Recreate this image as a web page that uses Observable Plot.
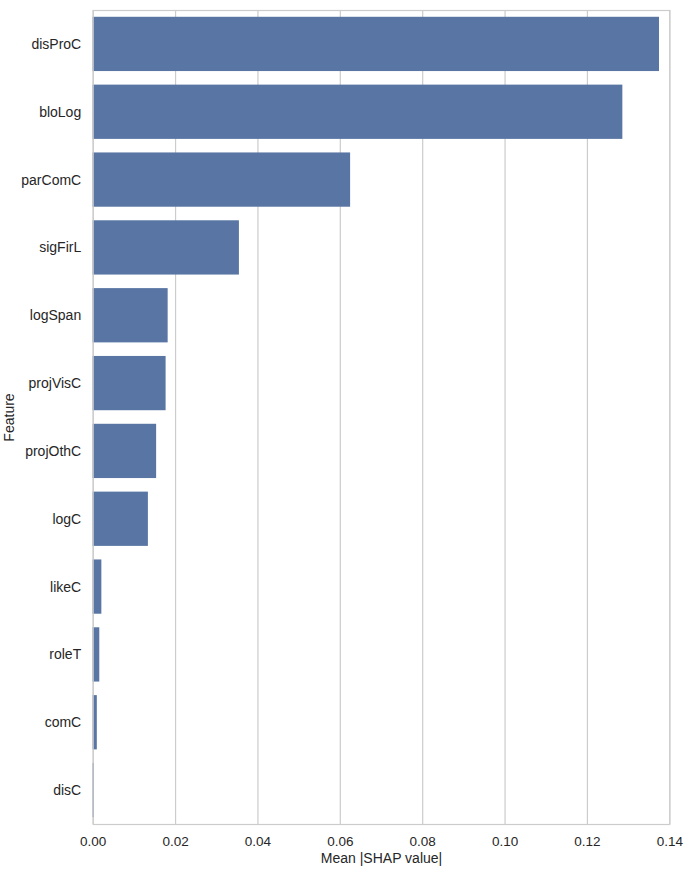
<!DOCTYPE html>
<html><head><meta charset="utf-8">
<script src="https://cdn.jsdelivr.net/npm/d3@7"></script>
<script src="https://cdn.jsdelivr.net/npm/@observablehq/plot@0.6"></script>
<style>
body{margin:0;background:#fff;}
svg{font-family:"Liberation Sans",Arial,sans-serif;}
</style></head>
<body><div id="chart"></div>
<script>
const features = ["disProC","bloLog","parComC","sigFirL","logSpan","projVisC","projOthC","logC","likeC","roleT","comC","disC"];
const meanShap = [0.1375,0.1286,0.0625,0.0355,0.0182,0.0177,0.0154,0.0134,0.0021,0.0016,0.0010,0.0003];
const xTicks = [0,0.02,0.04,0.06,0.08,0.10,0.12,0.14];
const data = features.map((f,i)=>({feature:f, value:meanShap[i]}));

const chart = Plot.plot({
  width: 687, height: 871,
  marginLeft: 92.7, marginRight: 17.7, marginTop: 10, marginBottom: 47,
  style: {fontSize: "13.5px", color: "#262626", background: "#fff"},
  x: {domain: [0, 0.14], ticks: xTicks, tickFormat: d3.format(".2f")},
  y: {domain: features, paddingInner: 0.2, paddingOuter: 0.1, round: false},
  marks: [
    Plot.gridX(xTicks, {stroke: "#cccccc", strokeOpacity: 1, strokeWidth: 1.2}),
    Plot.barX(data, {x: "value", y: "feature", fill: "#5975a4"}),
    Plot.frame({stroke: "#cccccc", strokeWidth: 1.2}),
    Plot.axisX(xTicks, {tickSize: 0, tickPadding: 12, tickFormat: d3.format(".2f"), label: null, fill: "#262626"}),
    Plot.axisY({tickSize: 0, tickPadding: 12, label: null, fill: "#262626", fontSize: 14}),
    Plot.text(["Mean |SHAP value|"], {frameAnchor: "bottom", dy: 38, fontSize: 14, fill: "#262626"}),
    Plot.text(["Feature"], {frameAnchor: "left", textAnchor: "middle", dx: -83.7, rotate: -90, fontSize: 14, fill: "#262626"})
  ]
});
document.getElementById("chart").appendChild(chart);
</script></body></html>
